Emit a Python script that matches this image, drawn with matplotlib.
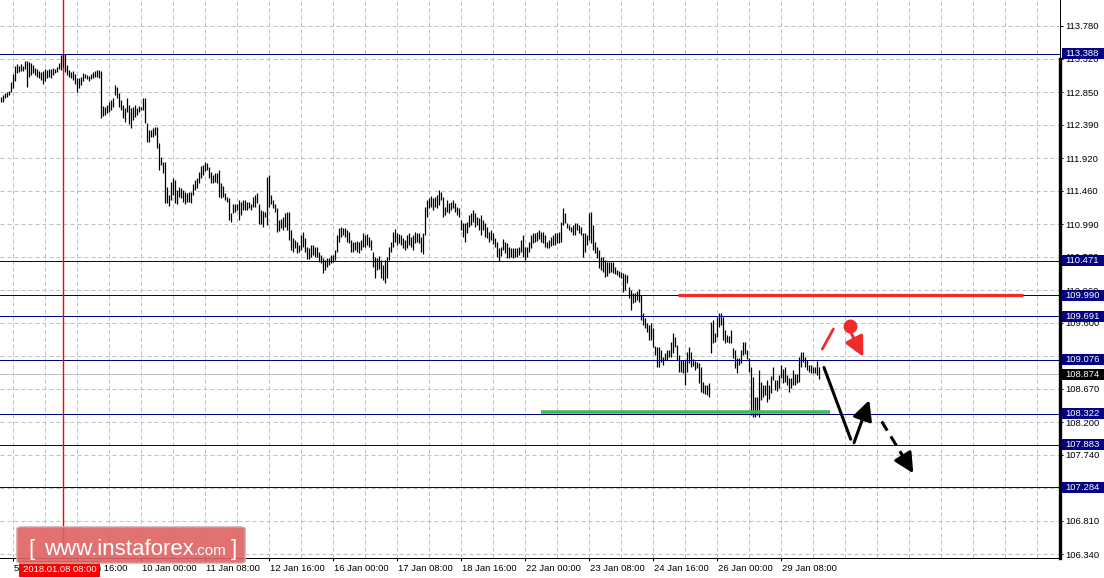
import matplotlib.pyplot as plt
import matplotlib.transforms as mtransforms
from matplotlib.patches import FancyBboxPatch, Rectangle

plt.rcParams['font.family'] = ['Liberation Sans', 'DejaVu Sans']

# hourly bars, high / low per bar
highs = [
    112.78, 112.81, 112.84, 112.85, 112.86, 112.99, 113.10, 113.22, 113.24, 113.22,
    113.24, 113.22, 113.29, 113.29, 113.27, 113.26, 113.23, 113.19, 113.17, 113.15,
    113.13, 113.15, 113.17, 113.16, 113.17, 113.17, 113.19, 113.17, 113.20, 113.26,
    113.37, 113.39, 113.39, 113.23, 113.16, 113.13, 113.15, 113.10, 113.05, 113.05,
    113.06, 113.12, 113.10, 113.09, 113.08, 113.10, 113.13, 113.15, 113.16, 113.16,
    113.15, 112.65, 112.64, 112.67, 112.71, 112.74, 112.77, 112.95, 112.92, 112.84,
    112.74, 112.67, 112.62, 112.77, 112.67, 112.62, 112.64, 112.67, 112.62, 112.65,
    112.64, 112.77, 112.77, 112.41, 112.31, 112.31, 112.34, 112.36, 112.36, 112.13,
    111.93, 111.86, 111.86, 111.51, 111.40, 111.58, 111.64, 111.61, 111.47, 111.51,
    111.50, 111.47, 111.44, 111.43, 111.44, 111.44, 111.55, 111.61, 111.64, 111.72,
    111.81, 111.82, 111.86, 111.85, 111.79, 111.72, 111.68, 111.71, 111.71, 111.75,
    111.57, 111.53, 111.43, 111.37, 111.36, 111.15, 111.27, 111.27, 111.27, 111.33,
    111.30, 111.33, 111.33, 111.30, 111.30, 111.27, 111.37, 111.40, 111.43, 111.27,
    111.19, 111.17, 111.16, 111.65, 111.68, 111.40, 111.33, 111.27, 111.22, 111.05,
    111.06, 111.09, 111.15, 111.16, 111.16, 110.91, 110.79, 110.77, 110.74, 110.70,
    110.84, 110.88, 110.79, 110.67, 110.65, 110.70, 110.70, 110.67, 110.67, 110.60,
    110.55, 110.51, 110.48, 110.51, 110.51, 110.55, 110.55, 110.63, 110.84, 110.93,
    110.95, 110.93, 110.93, 110.91, 110.88, 110.77, 110.74, 110.74, 110.75, 110.74,
    110.77, 110.86, 110.84, 110.85, 110.81, 110.77, 110.60, 110.53, 110.51, 110.54,
    110.48, 110.41, 110.48, 110.53, 110.67, 110.74, 110.88, 110.92, 110.86, 110.85,
    110.84, 110.79, 110.77, 110.84, 110.86, 110.81, 110.84, 110.88, 110.86, 110.86,
    110.81, 110.86, 111.23, 111.33, 111.36, 111.38, 111.36, 111.37, 111.40, 111.47,
    111.44, 111.37, 111.23, 111.33, 111.29, 111.30, 111.33, 111.29, 111.23, 111.22,
    111.05, 111.00, 111.00, 111.02, 111.12, 111.15, 111.19, 111.15, 111.09, 111.08,
    111.12, 111.05, 111.00, 110.95, 110.88, 110.91, 110.86, 110.79, 110.74, 110.65,
    110.67, 110.78, 110.74, 110.72, 110.67, 110.65, 110.65, 110.65, 110.65, 110.67,
    110.77, 110.84, 110.67, 110.67, 110.74, 110.84, 110.86, 110.86, 110.88, 110.91,
    110.88, 110.88, 110.84, 110.74, 110.77, 110.81, 110.84, 110.86, 110.86, 110.88,
    111.02, 111.22, 111.15, 111.00, 110.98, 110.95, 110.98, 111.00, 111.00, 110.98,
    110.95, 110.86, 110.86, 110.84, 111.15, 111.16, 110.98, 110.74, 110.67, 110.63,
    110.53, 110.53, 110.48, 110.46, 110.46, 110.46, 110.46, 110.39, 110.34, 110.33,
    110.32, 110.30, 110.29, 110.27, 110.10, 110.06, 110.02, 110.02, 110.05, 110.08,
    109.99, 109.74, 109.67, 109.60, 109.57, 109.60, 109.53, 109.27, 109.26, 109.26,
    109.22, 109.12, 109.17, 109.22, 109.22, 109.33, 109.46, 109.40, 109.29, 109.15,
    109.08, 109.08, 109.08, 109.19, 109.26, 109.19, 109.09, 109.06, 109.05, 109.03,
    108.98, 108.77, 108.72, 108.72, 108.75, 109.61, 109.64, 109.46, 109.68, 109.74,
    109.74, 109.68, 109.50, 109.43, 109.41, 109.50, 109.25, 109.22, 109.10, 109.10,
    109.22, 109.33, 109.33, 109.22, 109.10, 108.98, 108.84, 108.55, 108.55, 108.93,
    108.77, 108.72, 108.72, 108.79, 108.72, 108.85, 108.98, 108.79, 108.79, 108.86,
    109.00, 108.95, 108.98, 108.86, 108.82, 108.82, 108.94, 108.88, 108.88, 109.12,
    109.19, 109.19, 109.12, 109.08, 109.00, 109.00, 108.98, 108.98, 109.06, 108.98,
]
lows = [
    112.71, 112.71, 112.77, 112.78, 112.81, 112.85, 112.91, 113.00, 113.12, 113.13,
    113.15, 113.15, 113.17, 112.92, 113.06, 113.09, 113.12, 113.09, 113.06, 113.05,
    113.02, 112.96, 113.00, 113.05, 113.06, 113.05, 113.09, 113.12, 113.13, 113.17,
    113.16, 113.20, 113.13, 113.09, 113.06, 113.05, 113.02, 112.96, 112.85, 112.91,
    112.95, 113.00, 113.05, 113.03, 113.00, 113.03, 113.05, 113.06, 113.06, 113.05,
    112.48, 112.51, 112.53, 112.55, 112.57, 112.60, 112.64, 112.81, 112.77, 112.64,
    112.60, 112.48, 112.43, 112.57, 112.40, 112.34, 112.46, 112.50, 112.53, 112.57,
    112.60, 112.60, 112.41, 112.15, 112.15, 112.22, 112.22, 112.24, 112.06, 111.75,
    111.82, 111.71, 111.29, 111.29, 111.24, 111.33, 111.40, 111.29, 111.27, 111.37,
    111.36, 111.30, 111.27, 111.30, 111.30, 111.29, 111.40, 111.47, 111.50, 111.57,
    111.64, 111.68, 111.74, 111.75, 111.64, 111.57, 111.57, 111.58, 111.57, 111.37,
    111.36, 111.37, 111.33, 111.30, 111.05, 111.02, 111.15, 111.16, 111.19, 111.05,
    111.12, 111.19, 111.19, 111.19, 111.22, 111.19, 111.23, 111.23, 111.29, 110.99,
    110.99, 110.95, 111.09, 110.98, 111.23, 111.27, 111.22, 111.16, 110.88, 110.89,
    110.93, 110.91, 110.95, 110.91, 110.77, 110.63, 110.60, 110.65, 110.58, 110.60,
    110.63, 110.67, 110.60, 110.50, 110.50, 110.53, 110.55, 110.53, 110.53, 110.46,
    110.44, 110.30, 110.34, 110.39, 110.41, 110.44, 110.46, 110.48, 110.60, 110.74,
    110.81, 110.84, 110.81, 110.74, 110.72, 110.60, 110.60, 110.63, 110.60, 110.58,
    110.63, 110.67, 110.67, 110.70, 110.67, 110.63, 110.39, 110.23, 110.34, 110.36,
    110.23, 110.20, 110.16, 110.23, 110.48, 110.60, 110.67, 110.74, 110.70, 110.72,
    110.70, 110.65, 110.63, 110.65, 110.70, 110.67, 110.63, 110.72, 110.74, 110.72,
    110.60, 110.57, 110.84, 111.09, 111.22, 111.23, 111.19, 111.23, 111.22, 111.26,
    111.33, 111.09, 111.12, 111.16, 111.15, 111.19, 111.22, 111.16, 111.12, 111.09,
    110.91, 110.81, 110.74, 110.86, 110.95, 110.98, 111.02, 110.95, 110.98, 110.91,
    110.84, 110.91, 110.81, 110.79, 110.74, 110.77, 110.71, 110.67, 110.53, 110.47,
    110.54, 110.63, 110.58, 110.51, 110.51, 110.53, 110.51, 110.53, 110.53, 110.55,
    110.60, 110.53, 110.48, 110.53, 110.60, 110.65, 110.72, 110.74, 110.75, 110.78,
    110.74, 110.72, 110.67, 110.65, 110.65, 110.68, 110.70, 110.70, 110.72, 110.72,
    110.74, 110.98, 111.00, 110.93, 110.91, 110.88, 110.84, 110.84, 110.91, 110.86,
    110.84, 110.53, 110.60, 110.70, 110.77, 110.72, 110.63, 110.58, 110.51, 110.37,
    110.34, 110.32, 110.25, 110.26, 110.30, 110.32, 110.30, 110.29, 110.27, 110.25,
    110.23, 110.03, 110.06, 110.16, 109.95, 109.78, 109.88, 109.89, 109.92, 109.89,
    109.64, 109.57, 109.53, 109.47, 109.36, 109.36, 109.26, 109.15, 108.98, 108.98,
    109.05, 109.01, 109.08, 109.08, 109.12, 109.12, 109.17, 109.26, 109.08, 108.91,
    108.91, 108.89, 108.72, 108.91, 109.03, 108.98, 108.99, 108.94, 108.96, 108.75,
    108.63, 108.61, 108.60, 108.58, 108.55, 109.17, 109.32, 109.33, 109.40, 109.54,
    109.57, 109.36, 109.32, 109.33, 109.32, 109.32, 109.10, 108.96, 108.89, 109.00,
    109.03, 109.15, 109.16, 109.09, 108.91, 108.30, 108.27, 108.27, 108.30, 108.27,
    108.51, 108.55, 108.58, 108.48, 108.53, 108.61, 108.79, 108.65, 108.64, 108.68,
    108.82, 108.75, 108.77, 108.72, 108.63, 108.68, 108.72, 108.72, 108.75, 108.77,
    108.98, 109.05, 108.98, 108.94, 108.91, 108.89, 108.89, 108.89, 108.87, 108.81,
]

price_ticks = [113.780, 113.320, 112.850, 112.390, 111.920, 111.460, 110.990, 110.530,
               110.060, 109.600, 109.130, 108.670, 108.200, 107.740, 107.270, 106.810, 106.340]
levels = [113.388, 110.471, 109.990, 109.691, 109.076, 108.322, 107.883, 107.284]
current_price = 108.874

time_labels = ["5 Jan 08:00", "8 Jan 16:00", "10 Jan 00:00", "11 Jan 08:00", "12 Jan 16:00",
               "16 Jan 00:00", "17 Jan 08:00", "18 Jan 16:00", "22 Jan 00:00", "23 Jan 08:00",
               "24 Jan 16:00", "26 Jan 00:00", "29 Jan 08:00"]
marker_bar = 31
marker_label = "2018.01.08 08:00"

# drawn objects on the chart (bar index, price)
resistance_line = ([338.75, 511.25], [109.990, 109.990])
support_line = ([270.25, 414.75], [108.35, 108.35])
red_stroke = ([410.9, 416.4], [109.23, 109.51])
red_dot = (424.6, 109.55)
red_arrow = ((425.25, 109.46), (431.4, 109.12))
black_drop = ([411.75, 425.1], [108.97, 107.96])
black_arrow = ((426.75, 107.91), (434.4, 108.51))
black_dashed = ((440.6, 108.21), (456.4, 107.48))

W, H = 1104, 578
fig = plt.figure(figsize=(W / 100, H / 100), dpi=100)
ax = fig.add_axes([0, 20 / H, 1060 / W, 558 / H])
ax.set_xlim(-0.25, 529.75)
ax.set_ylim(106.287, 114.146)

px = 0.72  # one pixel in points
grid_style = dict(color='#c0c0c0', lw=px, linestyle=(0, (4, 3)), zorder=0)
for p in price_ticks:
    ax.axhline(p, **grid_style)
for b in range(6, 530, 16):
    ax.axvline(b, **grid_style)

# horizontal levels
for lv in levels:
    ax.axhline(lv, color='#000080', lw=px, zorder=1)
ax.axhline(current_price, color='#c0c0c0', lw=px, zorder=1)
ax.axvline(marker_bar, color='#ff0000', lw=1.0, zorder=2)

# bars
xs = list(range(len(highs)))
ax.vlines(xs, lows, highs, colors='black', linewidth=0.9, zorder=3)

# drawn objects
ax.plot(*resistance_line, color='#ee2b2b', lw=2.3, solid_capstyle='butt', zorder=4)
ax.plot(*support_line, color='#3dbb50', lw=2.6, solid_capstyle='butt', zorder=4)
ax.plot(*red_stroke, color='#ee2b2b', lw=2.0, solid_capstyle='round', zorder=5)
ax.plot(*red_dot, 'o', color='#ee2b2b', markersize=9, zorder=5)
head = '-|>,head_length=0.6,head_width=0.3'
ax.annotate('', xy=red_arrow[1], xytext=red_arrow[0], zorder=5,
            arrowprops=dict(arrowstyle=head, mutation_scale=20, color='#ee2b2b',
                            lw=2.2, shrinkA=0, shrinkB=0))
ax.plot(*black_drop, color='black', lw=2.2, solid_capstyle='round', zorder=5)
ax.annotate('', xy=black_arrow[1], xytext=black_arrow[0], zorder=5,
            arrowprops=dict(arrowstyle=head, mutation_scale=20, color='black',
                            lw=2.2, shrinkA=0, shrinkB=0))
(x0, y0), (x1, y1) = black_dashed
xm, ym = x0 + 0.62 * (x1 - x0), y0 + 0.62 * (y1 - y0)
ax.plot([x0, xm], [y0, ym], color='black', lw=2.2, linestyle=(0, (3.5, 2.2)), zorder=5)
ax.annotate('', xy=(x1, y1), xytext=(xm, ym), zorder=5,
            arrowprops=dict(arrowstyle=head, mutation_scale=20, color='black',
                            lw=2.2, shrinkA=0, shrinkB=0))

# axes frame
for side in ['top', 'left']:
    ax.spines[side].set_visible(False)
ax.spines['bottom'].set_linewidth(px)
ax.spines['right'].set_linewidth(px)
ax.axvline(529.75, ymin=0, ymax=(558 - 59) / 558, color='black', lw=2.4,
           clip_on=False, zorder=6)

ax.yaxis.tick_right()
ax.set_yticks(price_ticks)
ax.set_yticklabels([f"{p:.3f}" for p in price_ticks])
ax.tick_params(axis='y', direction='out', length=2.2, width=px, pad=1.8,
               labelsize=6.8, colors='black')
ticks_x = [6 + 32 * k for k in range(len(time_labels))]
ax.set_xticks(ticks_x)
ax.set_xticklabels(time_labels, ha='left')
ax.tick_params(axis='x', direction='out', length=2.2, width=px, pad=1.8, labelsize=6.8)
offset = mtransforms.ScaledTranslation(1 / 100, 0, fig.dpi_scale_trans)
for lab in ax.get_xticklabels():
    lab.set_transform(lab.get_transform() + offset)

# price boxes on the right scale
trans = mtransforms.blended_transform_factory(ax.transAxes, ax.transData)
box_h = 11 / 71
for lv in levels + [current_price]:
    face = 'black' if lv == current_price else '#000080'
    ax.add_patch(Rectangle((1062 / 1060, lv - box_h / 2), 44 / 1060, box_h,
                           transform=trans, facecolor=face, edgecolor='none',
                           clip_on=False, zorder=7))
    ax.text(1065.5 / 1060, lv, f"{lv:.3f}", transform=trans, color='white',
            fontsize=6.8, ha='left', va='center', clip_on=False, zorder=8)

# date box on the time scale
trans_x = mtransforms.blended_transform_factory(ax.transData, ax.transAxes)
ax.text(marker_bar - 1.5, -11 / 558, marker_label, transform=trans_x, color='white',
        fontsize=6.8, ha='center', va='center', clip_on=False, zorder=8,
        bbox=dict(boxstyle='square,pad=0.35', facecolor='#ff0000', edgecolor='none'))

# watermark
fig.patches.append(FancyBboxPatch((19 / W, 1 - 562 / H), 224 / W, 34 / H,
                                  boxstyle='round,pad=0.002,rounding_size=0.004',
                                  transform=fig.transFigure, facecolor='#df6262',
                                  edgecolor='#d8b0b0', lw=1.0, alpha=0.9, zorder=10))
fig.text(28 / W, 1 - 555 / H, '[', color='white', fontsize=16, va='baseline', zorder=11)
fig.text(44 / W, 1 - 555 / H, 'www.instaforex', color='white', fontsize=16,
         va='baseline', zorder=11)
fig.text(194 / W, 1 - 555 / H, '.com', color='white', fontsize=11,
         va='baseline', zorder=11)
fig.text(231 / W, 1 - 555 / H, ']', color='white', fontsize=16, va='baseline', zorder=11)

fig.savefig('out.png', dpi=100)
